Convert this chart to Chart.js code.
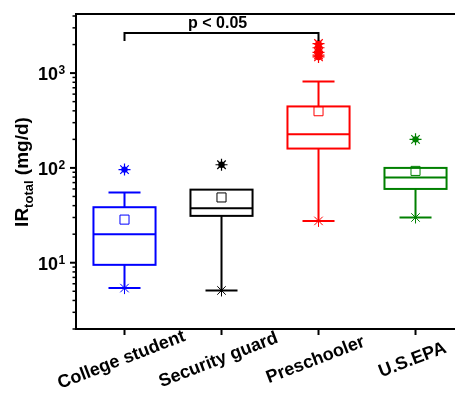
<!DOCTYPE html>
<html>
<head>
<meta charset="utf-8">
<script src="https://cdn.jsdelivr.net/npm/chart.js@4.4.1/dist/chart.umd.min.js"></script>
<style>
  html, body { margin: 0; padding: 0; background: #fff; overflow: hidden; }
  #wrap { width: 455px; height: 393px; position: relative; }
</style>
</head>
<body>
<div id="wrap"><canvas id="boxChart"></canvas></div>
<script>
// data (mg/d)
var groups = ["College student", "Security guard", "Preschooler", "U.S.EPA"];
var colors = ["#0000ff", "#000000", "#ff0000", "#008000"];
var lowWhisker = [5.4, 5.1, 27.6, 30];
var q1 = [9.5, 31.2, 160, 60];
var medians = [20, 37.6, 226, 79];
var q3 = [38.5, 59, 445, 100];
var highWhisker = [55, 59, 816, 100];
var means = [28.5, 48.8, 396, 93];
var outliers = [[96], [108], [2050, 1850, 1650, 1550, 1480], [200]];
var yTicks = [10, 100, 1000];
var sigText = "p < 0.05";

var FONT = "Arial, 'Liberation Sans', sans-serif";

// points for scatter datasets
var meanPts = groups.map(function (g, i) { return { x: i, y: means[i] }; });
var minPts = groups.map(function (g, i) { return { x: i, y: lowWhisker[i] }; });
var outPts = [], outCols = [];
outliers.forEach(function (arr, i) {
  arr.forEach(function (v) { outPts.push({ x: i, y: v }); outCols.push(colors[i]); });
});

var boxPlugin = {
  id: "boxPlugin",
  beforeDatasetsDraw: function (chart) {
    var ctx = chart.ctx, x = chart.scales.x, y = chart.scales.y;
    var boxW = x.getPixelForValue(0.32) - x.getPixelForValue(0);
    var capW = x.getPixelForValue(0.165) - x.getPixelForValue(0);
    ctx.save();
    ctx.lineWidth = 2;
    groups.forEach(function (g, i) {
      var cx = x.getPixelForValue(i);
      ctx.strokeStyle = colors[i];
      var yq1 = y.getPixelForValue(q1[i]), yq3 = y.getPixelForValue(q3[i]);
      ctx.strokeRect(cx - boxW, yq3, boxW * 2, yq1 - yq3);
      var ym = y.getPixelForValue(medians[i]);
      var ylo = y.getPixelForValue(lowWhisker[i]), yhi = y.getPixelForValue(highWhisker[i]);
      ctx.beginPath();
      ctx.moveTo(cx - boxW, ym); ctx.lineTo(cx + boxW, ym);
      ctx.moveTo(cx, yq1); ctx.lineTo(cx, ylo);
      ctx.moveTo(cx - capW, ylo); ctx.lineTo(cx + capW, ylo);
      if (highWhisker[i] > q3[i]) {
        ctx.moveTo(cx, yq3); ctx.lineTo(cx, yhi);
        ctx.moveTo(cx - capW, yhi); ctx.lineTo(cx + capW, yhi);
      }
      ctx.stroke();
    });
    ctx.restore();
  },
  afterDraw: function (chart) {
    var ctx = chart.ctx, x = chart.scales.x, y = chart.scales.y, a = chart.chartArea;
    ctx.save();
    ctx.strokeStyle = "#000";
    ctx.fillStyle = "#000";
    // frame (right side runs off the picture)
    ctx.lineWidth = 2;
    ctx.beginPath();
    ctx.moveTo(chart.width, a.top); ctx.lineTo(a.left, a.top);
    ctx.lineTo(a.left, a.bottom); ctx.lineTo(chart.width, a.bottom);
    ctx.stroke();
    // y ticks (log, with minor ticks)
    for (var n = 0; n <= 3; n++) {
      for (var k = 1; k <= 9; k++) {
        var v = k * Math.pow(10, n);
        if (v < y.min || v > y.max) continue;
        var py = y.getPixelForValue(v);
        var len = k === 1 ? 6 : 3.5;
        ctx.lineWidth = k === 1 ? 2 : 1.5;
        ctx.beginPath(); ctx.moveTo(a.left - len, py); ctx.lineTo(a.left, py); ctx.stroke();
      }
    }
    // y tick labels 10^n
    yTicks.forEach(function (v) {
      var py = y.getPixelForValue(v);
      ctx.font = "bold 18px " + FONT;
      ctx.textAlign = "right"; ctx.textBaseline = "middle";
      ctx.fillText("10", a.left - 18, py + 2);
      ctx.font = "bold 12px " + FONT;
      ctx.textAlign = "left"; ctx.textBaseline = "alphabetic";
      ctx.fillText(String(Math.round(Math.log10(v))), a.left - 17.5, py + 1);
    });
    // x ticks and rotated labels
    groups.forEach(function (g, i) {
      var px = x.getPixelForValue(i);
      ctx.lineWidth = 2;
      ctx.beginPath(); ctx.moveTo(px, a.bottom); ctx.lineTo(px, a.bottom + 6); ctx.stroke();
      ctx.save();
      ctx.translate(px - 3, a.bottom + 31);
      ctx.rotate(-21 * Math.PI / 180);
      ctx.font = "bold 18px " + FONT;
      ctx.textAlign = "center"; ctx.textBaseline = "middle";
      ctx.fillText(g, 0, 0);
      ctx.restore();
    });
    // y axis title IR_total (mg/d)
    ctx.save();
    ctx.translate(28, (a.top + a.bottom) / 2 + 0.5);
    ctx.rotate(-Math.PI / 2);
    ctx.textBaseline = "alphabetic"; ctx.textAlign = "left";
    var big = "bold 19px " + FONT, small = "bold 13px " + FONT;
    ctx.font = big; var w1 = ctx.measureText("IR").width, w3 = ctx.measureText(" (mg/d)").width;
    ctx.font = small; var w2 = ctx.measureText("total").width;
    var sx = -(w1 + w2 + w3) / 2;
    ctx.font = big; ctx.fillText("IR", sx, 0);
    ctx.font = small; ctx.fillText("total", sx + w1, 5);
    ctx.font = big; ctx.fillText(" (mg/d)", sx + w1 + w2, 0);
    ctx.restore();
    // significance bracket
    var bx0 = x.getPixelForValue(0), bx1 = x.getPixelForValue(2);
    var byTop = y.getPixelForValue(2650), byLeg = y.getPixelForValue(2180);
    ctx.lineWidth = 2;
    ctx.beginPath();
    ctx.moveTo(bx0, byLeg); ctx.lineTo(bx0, byTop); ctx.lineTo(bx1, byTop); ctx.lineTo(bx1, byLeg);
    ctx.stroke();
    ctx.font = "bold 16px " + FONT;
    ctx.textAlign = "center"; ctx.textBaseline = "middle";
    ctx.fillText(sigText, x.getPixelForValue(0.96), y.getPixelForValue(3320));
    ctx.restore();
  }
};

var ctx = document.getElementById("boxChart").getContext("2d");

new Chart(ctx, {
  type: "scatter",
  data: {
    datasets: [
      { // outlier centre dots
        data: outPts,
        pointStyle: "circle",
        pointRadius: 3.2,
        backgroundColor: outCols,
        borderColor: outCols,
        borderWidth: 0
      },
      { // outlier stars
        data: outPts,
        pointStyle: "star",
        pointRadius: 6,
        borderColor: outCols,
        borderWidth: 1.2
      },
      { // minimum stars
        data: minPts,
        pointStyle: "star",
        pointRadius: 6,
        borderColor: colors,
        borderWidth: 1
      },
      { // means
        data: meanPts,
        pointStyle: "rect",
        pointRadius: 6.4,
        backgroundColor: "rgba(0,0,0,0)",
        borderColor: colors,
        borderWidth: 1
      }
    ]
  },
  options: {
    responsive: true,
    maintainAspectRatio: false,
    animation: false,
    layout: { autoPadding: false, padding: { left: 76, top: 14, right: 0, bottom: 64 } },
    scales: {
      x: { type: "linear", min: -0.5, max: 3.407, display: false },
      y: { type: "logarithmic", min: 2, max: 4200, display: false }
    },
    plugins: {
      legend: { display: false },
      tooltip: { enabled: false }
    }
  },
  plugins: [boxPlugin]
});
</script>
</body>
</html>
